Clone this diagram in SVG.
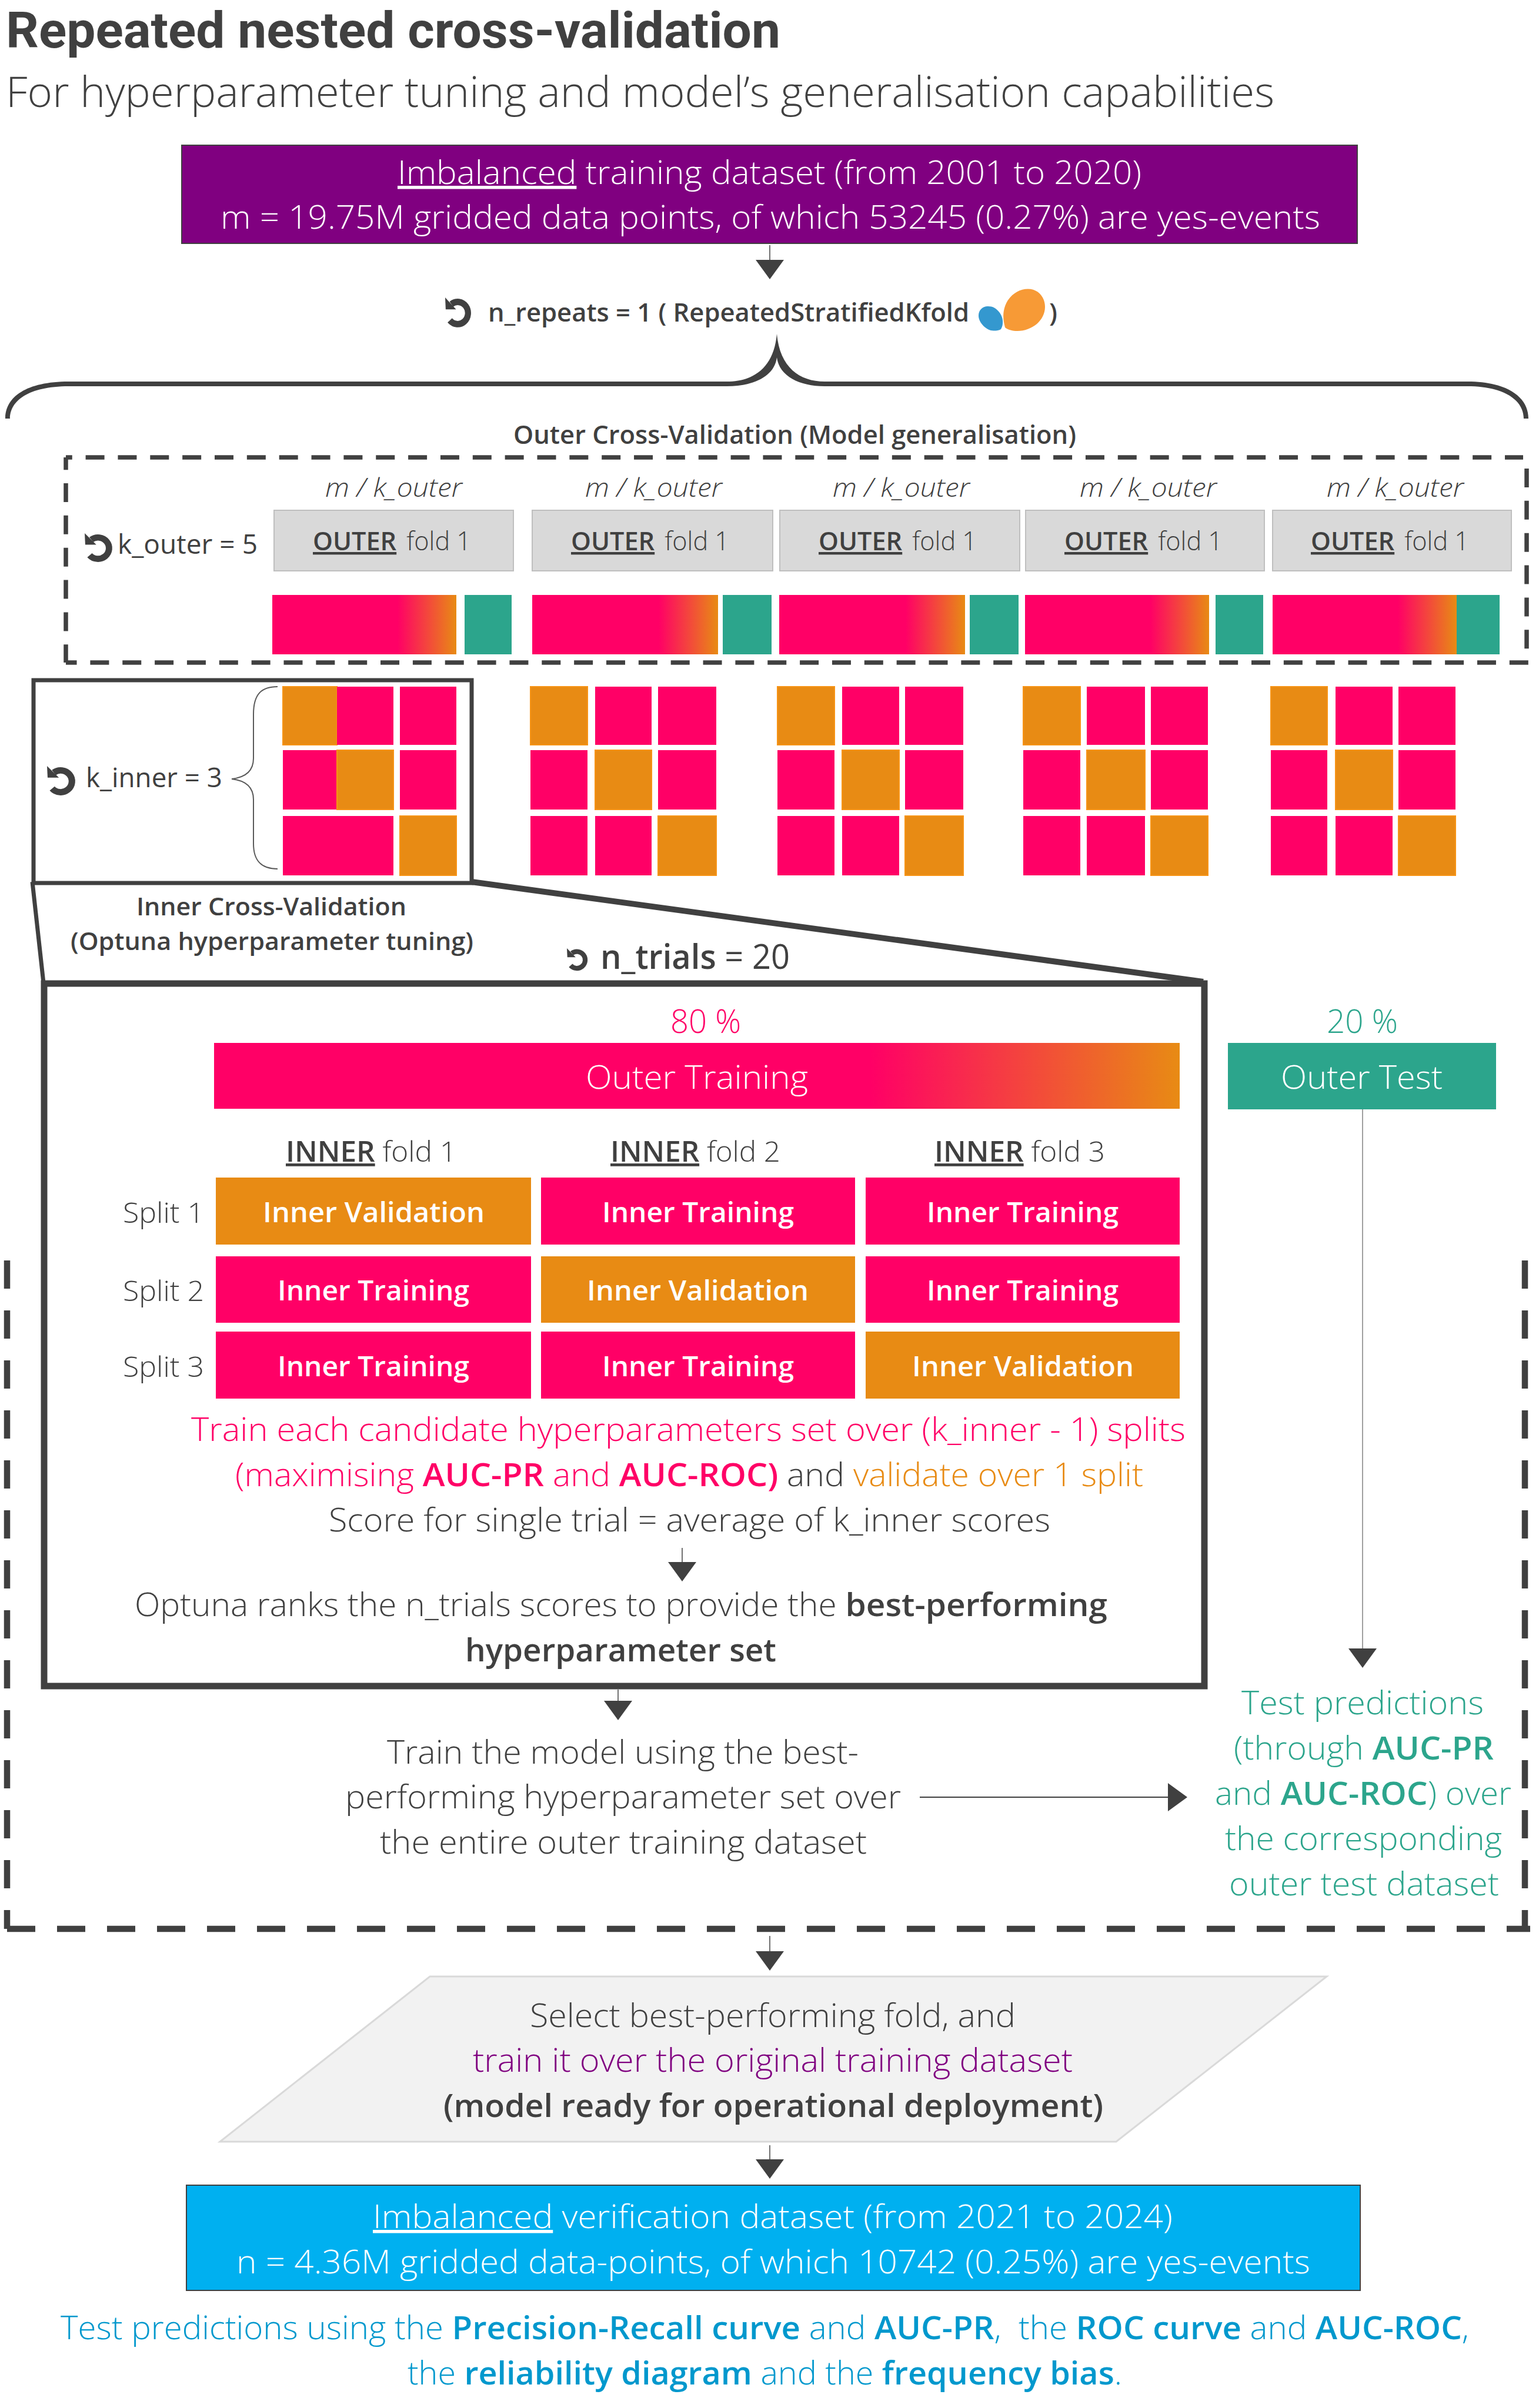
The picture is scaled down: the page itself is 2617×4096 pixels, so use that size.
<svg xmlns="http://www.w3.org/2000/svg" width="2617" height="4096" viewBox="0 0 2617 4096">
<style>
text{font-family:"Open Sans","Noto Sans",sans-serif;fill:#404040;font-weight:350;white-space:pre}
.b{font-weight:650}.s{font-weight:600}.r{font-weight:400}
.w{fill:#fff}.p{fill:#ff0066}.o{fill:#e88b14}.g{fill:#2ca58c}.v{fill:#800080}.c{fill:#0098cd}.d{fill:#404040}
.u{text-decoration:underline}
.i{font-style:italic;font-size:44px}
.f44{font-size:44px}.f46{font-size:46px}.f48{font-size:48px}.f55{font-size:55px}
.pk{fill:#ff0066}.or{fill:#e88b14;stroke:#f79416;stroke-width:2}.tl{fill:#2ca58c}
.gy{fill:#d9d9d9;stroke:#bfbfbf;stroke-width:2}
.conn{stroke:#404040;stroke-width:1.5;fill:none;marker-end:url(#ah)}
.ds{stroke:#404040;stroke-width:7.5;fill:none;stroke-dasharray:32 22.85}
.dl{stroke:#404040;stroke-width:10.5;fill:none;stroke-dasharray:48 37}
.sol{stroke:#404040;fill:none}
</style>
<defs>
<marker id="ah" markerUnits="userSpaceOnUse" markerWidth="33" markerHeight="48" viewBox="0 0 33 48" refX="0" refY="24" orient="auto"><path d="M0 0L33 24L0 48Z" fill="#404040"/></marker>
<linearGradient id="grad" x1="0" x2="1" y1="0" y2="0"><stop offset="0" stop-color="#ff0066"/><stop offset="0.68" stop-color="#ff0066"/><stop offset="1" stop-color="#e88b14"/></linearGradient>
<symbol id="loop" viewBox="50 75 255 275" preserveAspectRatio="none"><path d="M110 135A100 100 0 1 1 95 281" fill="none" stroke="#404040" stroke-width="58"/><path d="M50 75L55 182L155 182Z" fill="#404040"/></symbol>
</defs>

<g id="title">
<text x="10" y="81" font-size="85" textLength="1317" lengthAdjust="spacingAndGlyphs" style="font-family:Roboto,'Open Sans',sans-serif;font-weight:700">Repeated nested cross-validation</text>
<text x="10" y="182" font-size="71" textLength="2157" lengthAdjust="spacingAndGlyphs">For hyperparameter tuning and model’s generalisation capabilities</text>
</g>

<g id="train-dataset">
<rect x="309" y="247" width="1999" height="167" fill="#800080" stroke="#404040" stroke-width="2"/>
<text x="676" y="313" class="w f55" textLength="1265" lengthAdjust="spacingAndGlyphs"><tspan class="w u">Imbalanced</tspan> training dataset (from 2001 to 2020)</text>
<text x="375" y="389" class="w f55" textLength="1870" lengthAdjust="spacingAndGlyphs">m = 19.75M gridded data points, of which 53245 (0.27%) are yes-events</text>
</g>

<g id="n-repeats">
<use href="#loop" x="757" y="506" width="45" height="52"/>
<text x="830" y="547" class="s f44" textLength="818" lengthAdjust="spacingAndGlyphs">n_repeats = 1 ( RepeatedStratifiedKfold</text>
<path d="M1702 560C1707 552 1706 540 1700 532C1694 524 1688 521 1680 521C1670 521 1664 528 1664 537C1664 549 1678 563 1690 562.5C1695 562.5 1699 562 1702 560Z" fill="#3498cf"/>
<path d="M1709 557C1706 545 1705 535 1708 524C1713 505 1730 491.6 1748 491.6C1765 491.6 1777 505 1777 522C1777 545 1755 563 1730 563C1722 563 1714 561 1709 557Z" fill="#f79a36"/>
<text x="1784" y="547" class="s f44">)</text>
</g>

<g id="brace">
<path d="M9 712C9 675 45 649 117 649H1236C1282 649 1316 625 1321 568C1326 625 1360 649 1402 649H2495C2563 649 2599 675 2599 712H2591C2591 682 2560 657 2495 657H1402C1360 657 1325 640 1321 608C1317 640 1282 657 1236 657H117C48 657 17 682 17 712Z" fill="#404040"/>
</g>

<g id="outer-cv">
<text x="873" y="755" class="s f44" textLength="957" lengthAdjust="spacingAndGlyphs">Outer Cross-Validation (Model generalisation)</text>
<path class="ds" d="M112 778H2590" stroke-dashoffset="21.25"/>
<path class="ds" d="M112 1127H2599" stroke-dashoffset="13.45"/>
<path class="ds" d="M112 778V1127" stroke-dashoffset="10.85"/>
<path class="ds" d="M2596 797V1105"/>
<use href="#loop" x="144" y="907" width="48" height="50"/>
<text x="200" y="942" class="r f46" textLength="238" lengthAdjust="spacingAndGlyphs">k_outer = 5</text>
</g>

<g id="fold-1">
<text x="553" y="845" class="i" textLength="233" lengthAdjust="spacingAndGlyphs">m / k_outer</text>
<rect class="gy" x="466" y="868" width="407" height="103"/>
<text x="532" y="936" class="f44" textLength="269" lengthAdjust="spacingAndGlyphs"><tspan class="s u">OUTER</tspan> <tspan dx="6">fold 1</tspan></text>
<rect x="463" y="1012" width="313" height="101" fill="url(#grad)"/>
<rect class="tl" x="790" y="1012" width="80" height="101"/>
</g>
<g id="fold-2">
<text x="995" y="845" class="i" textLength="233" lengthAdjust="spacingAndGlyphs">m / k_outer</text>
<rect class="gy" x="905" y="868" width="409" height="103"/>
<text x="971" y="936" class="f44" textLength="269" lengthAdjust="spacingAndGlyphs"><tspan class="s u">OUTER</tspan> <tspan dx="6">fold 1</tspan></text>
<rect x="905" y="1012" width="316" height="101" fill="url(#grad)"/>
<rect class="tl" x="1229" y="1012" width="83" height="101"/>
</g>
<g id="fold-3">
<text x="1416" y="845" class="i" textLength="233" lengthAdjust="spacingAndGlyphs">m / k_outer</text>
<rect class="gy" x="1326" y="868" width="408" height="103"/>
<text x="1392" y="936" class="f44" textLength="269" lengthAdjust="spacingAndGlyphs"><tspan class="s u">OUTER</tspan> <tspan dx="6">fold 1</tspan></text>
<rect x="1325" y="1012" width="316" height="101" fill="url(#grad)"/>
<rect class="tl" x="1649" y="1012" width="83" height="101"/>
</g>
<g id="fold-4">
<text x="1836" y="845" class="i" textLength="233" lengthAdjust="spacingAndGlyphs">m / k_outer</text>
<rect class="gy" x="1744" y="868" width="406" height="103"/>
<text x="1810" y="936" class="f44" textLength="269" lengthAdjust="spacingAndGlyphs"><tspan class="s u">OUTER</tspan> <tspan dx="6">fold 1</tspan></text>
<rect x="1743" y="1012" width="313" height="101" fill="url(#grad)"/>
<rect class="tl" x="2067" y="1012" width="81" height="101"/>
</g>
<g id="fold-5">
<text x="2256" y="845" class="i" textLength="233" lengthAdjust="spacingAndGlyphs">m / k_outer</text>
<rect class="gy" x="2164" y="868" width="406" height="103"/>
<text x="2229" y="936" class="f44" textLength="269" lengthAdjust="spacingAndGlyphs"><tspan class="s u">OUTER</tspan> <tspan dx="6">fold 1</tspan></text>
<rect x="2164" y="1012" width="313" height="101" fill="url(#grad)"/>
<rect class="tl" x="2477" y="1012" width="73" height="101"/>
</g>

<g id="inner-cv">
<rect x="57" y="1157" width="745" height="345" fill="none" stroke="#404040" stroke-width="7"/>
<use href="#loop" x="80" y="1303" width="49" height="51"/>
<text x="146" y="1339" class="r f46" textLength="232" lengthAdjust="spacingAndGlyphs">k_inner = 3</text>
<path d="M472 1168C445 1168 431 1180 431 1215V1290C431 1310 420 1322 394 1325C420 1328 431 1340 431 1360V1435C431 1465 445 1478 472 1478" fill="none" stroke="#595959" stroke-width="2"/>
<rect class="or" x="481" y="1168" width="92" height="99"/><rect class="pk" x="573" y="1168" width="96" height="99"/><rect class="pk" x="680" y="1168" width="96" height="99"/>
<rect class="pk" x="481" y="1276" width="92" height="101"/><rect class="or" x="573" y="1276" width="96" height="101"/><rect class="pk" x="680" y="1276" width="96" height="101"/>
<rect class="pk" x="481" y="1388" width="188" height="101"/><rect class="or" x="680" y="1388" width="96" height="101"/>
<text x="232" y="1557" class="s" font-size="42" textLength="459" lengthAdjust="spacingAndGlyphs">Inner Cross-Validation</text>
<text x="120" y="1616" class="s" font-size="42" textLength="685" lengthAdjust="spacingAndGlyphs">(Optuna hyperparameter tuning)</text>
</g>
<g id="inner-grid-2">
<rect class="or" x="902" y="1168" width="97" height="99"/><rect class="pk" x="1012" y="1168" width="96" height="99"/><rect class="pk" x="1119" y="1168" width="99" height="99"/>
<rect class="pk" x="902" y="1276" width="97" height="101"/><rect class="or" x="1012" y="1276" width="96" height="101"/><rect class="pk" x="1119" y="1276" width="99" height="101"/>
<rect class="pk" x="902" y="1388" width="97" height="101"/><rect class="pk" x="1012" y="1388" width="96" height="101"/><rect class="or" x="1119" y="1388" width="99" height="101"/>
</g>
<g id="inner-grid-3">
<rect class="or" x="1322" y="1168" width="97" height="99"/><rect class="pk" x="1432" y="1168" width="97" height="99"/><rect class="pk" x="1539" y="1168" width="99" height="99"/>
<rect class="pk" x="1322" y="1276" width="97" height="101"/><rect class="or" x="1432" y="1276" width="97" height="101"/><rect class="pk" x="1539" y="1276" width="99" height="101"/>
<rect class="pk" x="1322" y="1388" width="97" height="101"/><rect class="pk" x="1432" y="1388" width="97" height="101"/><rect class="or" x="1539" y="1388" width="99" height="101"/>
</g>
<g id="inner-grid-4">
<rect class="or" x="1740" y="1168" width="97" height="99"/><rect class="pk" x="1848" y="1168" width="99" height="99"/><rect class="pk" x="1957" y="1168" width="97" height="99"/>
<rect class="pk" x="1740" y="1276" width="97" height="101"/><rect class="or" x="1848" y="1276" width="99" height="101"/><rect class="pk" x="1957" y="1276" width="97" height="101"/>
<rect class="pk" x="1740" y="1388" width="97" height="101"/><rect class="pk" x="1848" y="1388" width="99" height="101"/><rect class="or" x="1957" y="1388" width="97" height="101"/>
</g>
<g id="inner-grid-5">
<rect class="or" x="2161" y="1168" width="96" height="99"/><rect class="pk" x="2271" y="1168" width="97" height="99"/><rect class="pk" x="2378" y="1168" width="97" height="99"/>
<rect class="pk" x="2161" y="1276" width="96" height="101"/><rect class="or" x="2271" y="1276" width="97" height="101"/><rect class="pk" x="2378" y="1276" width="97" height="101"/>
<rect class="pk" x="2161" y="1388" width="96" height="101"/><rect class="pk" x="2271" y="1388" width="97" height="101"/><rect class="or" x="2378" y="1388" width="97" height="101"/>
</g>

<g id="zoom-lines">
<path class="sol" stroke-width="7" d="M55 1500L74 1672"/>
<path class="sol" stroke-width="10" d="M802 1500L2046 1670"/>
</g>

<g id="n-trials">
<use href="#loop" x="964" y="1613" width="36" height="39"/>
<text x="1021" y="1648" font-size="58" textLength="322" lengthAdjust="spacingAndGlyphs"><tspan class="s">n_trials</tspan><tspan class="r"> = 20</tspan></text>
</g>

<g id="tuning-box">
<rect x="75" y="1673" width="1973" height="1195" fill="none" stroke="#404040" stroke-width="11"/>
<text x="1140" y="1757" class="p f55" textLength="120" lengthAdjust="spacingAndGlyphs">80 %</text>
<rect x="364" y="1774" width="1642" height="112" fill="url(#grad)"/>
<text x="996" y="1852" class="w f55" textLength="378" lengthAdjust="spacingAndGlyphs">Outer Training</text>
<text x="486" y="1976" class="f48" textLength="290" lengthAdjust="spacingAndGlyphs"><tspan class="s u">INNER</tspan> fold 1</text>
<text x="1038" y="1976" class="f48" textLength="289" lengthAdjust="spacingAndGlyphs"><tspan class="s u">INNER</tspan> fold 2</text>
<text x="1589" y="1976" class="f48" textLength="290" lengthAdjust="spacingAndGlyphs"><tspan class="s u">INNER</tspan> fold 3</text>
<text x="209" y="2080" class="f48" textLength="138" lengthAdjust="spacingAndGlyphs">Split 1</text>
<text x="209" y="2213" class="f48" textLength="138" lengthAdjust="spacingAndGlyphs">Split 2</text>
<text x="209" y="2342" class="f48" textLength="138" lengthAdjust="spacingAndGlyphs">Split 3</text>
<rect class="or" style="stroke:none" x="367" y="2003" width="536" height="114"/><rect class="pk" x="920" y="2003" width="534" height="114"/><rect class="pk" x="1472" y="2003" width="534" height="114"/>
<rect class="pk" x="367" y="2137" width="536" height="113"/><rect class="or" style="stroke:none" x="920" y="2137" width="534" height="113"/><rect class="pk" x="1472" y="2137" width="534" height="113"/>
<rect class="pk" x="367" y="2265" width="536" height="114"/><rect class="pk" x="920" y="2265" width="534" height="114"/><rect class="or" style="stroke:none" x="1472" y="2265" width="534" height="114"/>
<text x="447" y="2079" class="w s" font-size="47" textLength="377" lengthAdjust="spacingAndGlyphs">Inner Validation</text>
<text x="1024" y="2079" class="w s" font-size="47" textLength="326" lengthAdjust="spacingAndGlyphs">Inner Training</text>
<text x="1576" y="2079" class="w s" font-size="47" textLength="326" lengthAdjust="spacingAndGlyphs">Inner Training</text>
<text x="472" y="2212" class="w s" font-size="47" textLength="326" lengthAdjust="spacingAndGlyphs">Inner Training</text>
<text x="998" y="2212" class="w s" font-size="47" textLength="377" lengthAdjust="spacingAndGlyphs">Inner Validation</text>
<text x="1576" y="2212" class="w s" font-size="47" textLength="326" lengthAdjust="spacingAndGlyphs">Inner Training</text>
<text x="472" y="2341" class="w s" font-size="47" textLength="326" lengthAdjust="spacingAndGlyphs">Inner Training</text>
<text x="1024" y="2341" class="w s" font-size="47" textLength="326" lengthAdjust="spacingAndGlyphs">Inner Training</text>
<text x="1551" y="2341" class="w s" font-size="47" textLength="377" lengthAdjust="spacingAndGlyphs">Inner Validation</text>
<text x="325" y="2451" class="p f55" textLength="1691" lengthAdjust="spacingAndGlyphs">Train each candidate hyperparameters set over (k_inner - 1) splits</text>
<text x="400" y="2528" class="f55" textLength="1544" lengthAdjust="spacingAndGlyphs"><tspan class="p">(maximising </tspan><tspan class="p b">AUC-PR</tspan><tspan class="p"> and </tspan><tspan class="p b">AUC-ROC)</tspan> and <tspan class="o">validate over 1 split</tspan></text>
<text x="559" y="2605" class="f55" textLength="1227" lengthAdjust="spacingAndGlyphs">Score for single trial = average of k_inner scores</text>
<text x="229" y="2749" class="f55" textLength="1654" lengthAdjust="spacingAndGlyphs">Optuna ranks the n_trials scores to provide the <tspan class="b">best-performing</tspan></text>
<text x="791" y="2826" class="f55 b" textLength="529" lengthAdjust="spacingAndGlyphs">hyperparameter set</text>
</g>

<g id="outer-test">
<text x="2256" y="1757" class="g f55" textLength="121" lengthAdjust="spacingAndGlyphs">20 %</text>
<rect class="tl" x="2088" y="1774" width="456" height="113"/>
<text x="2178" y="1852" class="w f55" textLength="275" lengthAdjust="spacingAndGlyphs">Outer Test</text>
</g>

<g id="train-model">
<text x="658" y="3000" class="f55" textLength="802" lengthAdjust="spacingAndGlyphs">Train the model using the best-</text>
<text x="587" y="3076" class="f55" textLength="945" lengthAdjust="spacingAndGlyphs">performing hyperparameter set over</text>
<text x="646" y="3153" class="f55" textLength="828" lengthAdjust="spacingAndGlyphs">the entire outer training dataset</text>
</g>

<g id="test-predictions">
<text x="2111" y="2916" class="g f55" textLength="412" lengthAdjust="spacingAndGlyphs">Test predictions</text>
<text x="2098" y="2993" class="g f55" textLength="442" lengthAdjust="spacingAndGlyphs">(through <tspan class="g b">AUC-PR</tspan></text>
<text x="2066" y="3070" class="g f55" textLength="504" lengthAdjust="spacingAndGlyphs">and <tspan class="g b">AUC-ROC</tspan>) over</text>
<text x="2083" y="3147" class="g f55" textLength="471" lengthAdjust="spacingAndGlyphs">the corresponding</text>
<text x="2090" y="3224" class="g f55" textLength="459" lengthAdjust="spacingAndGlyphs">outer test dataset</text>
</g>

<g id="repeat-frame">
<path class="dl" d="M12 2144V3281"/>
<path class="dl" d="M2593 2144V3281"/>
<path class="dl" d="M8 3281H2602" stroke-dashoffset="-4"/>
</g>

<g id="select-fold">
<path d="M731 3362H2256L1898 3643H374Z" fill="#f2f2f2" stroke="#d9d9d9" stroke-width="3"/>
<text x="901" y="3448" class="f55" textLength="826" lengthAdjust="spacingAndGlyphs">Select best-performing fold, and</text>
<text x="804" y="3524" class="v f55" textLength="1020" lengthAdjust="spacingAndGlyphs">train it over the original training dataset</text>
<text x="754" y="3601" class="f55 s" textLength="1122" lengthAdjust="spacingAndGlyphs">(model ready for operational deployment)</text>
</g>

<g id="verification-dataset">
<rect x="317" y="3717" width="1996" height="179" fill="#00b0f0" stroke="#404040" stroke-width="2"/>
<text x="634" y="3790" class="w f55" textLength="1360" lengthAdjust="spacingAndGlyphs"><tspan class="w u">Imbalanced</tspan> verification dataset (from 2021 to 2024)</text>
<text x="402" y="3867" class="w f55" textLength="1826" lengthAdjust="spacingAndGlyphs">n = 4.36M gridded data-points, of which 10742 (0.25%) are yes-events</text>
</g>

<g id="verification-note">
<text x="103" y="3979" class="c f55" textLength="2395" lengthAdjust="spacingAndGlyphs">Test predictions using the <tspan class="c b">Precision-Recall curve</tspan> and <tspan class="c b">AUC-PR</tspan>,  the <tspan class="c b">ROC curve</tspan> and <tspan class="c b">AUC-ROC</tspan>,</text>
<text x="693" y="4056" class="c f55" textLength="1215" lengthAdjust="spacingAndGlyphs">the <tspan class="c b">reliability diagram</tspan> and the <tspan class="c b">frequency bias</tspan>.</text>
</g>

<g id="connectors">
<path class="conn" d="M1309 417V442"/>
<path class="conn" d="M1160 2633V2657"/>
<path class="conn" d="M1051 2874V2893"/>
<path class="conn" d="M2317 1887V2804" style="stroke:#7f7f7f"/>
<path class="conn" d="M1564 3057H1986" style="stroke-width:2"/>
<path class="conn" d="M1309 3293V3319"/>
<path class="conn" d="M1309 3649V3673"/>
</g>
</svg>
